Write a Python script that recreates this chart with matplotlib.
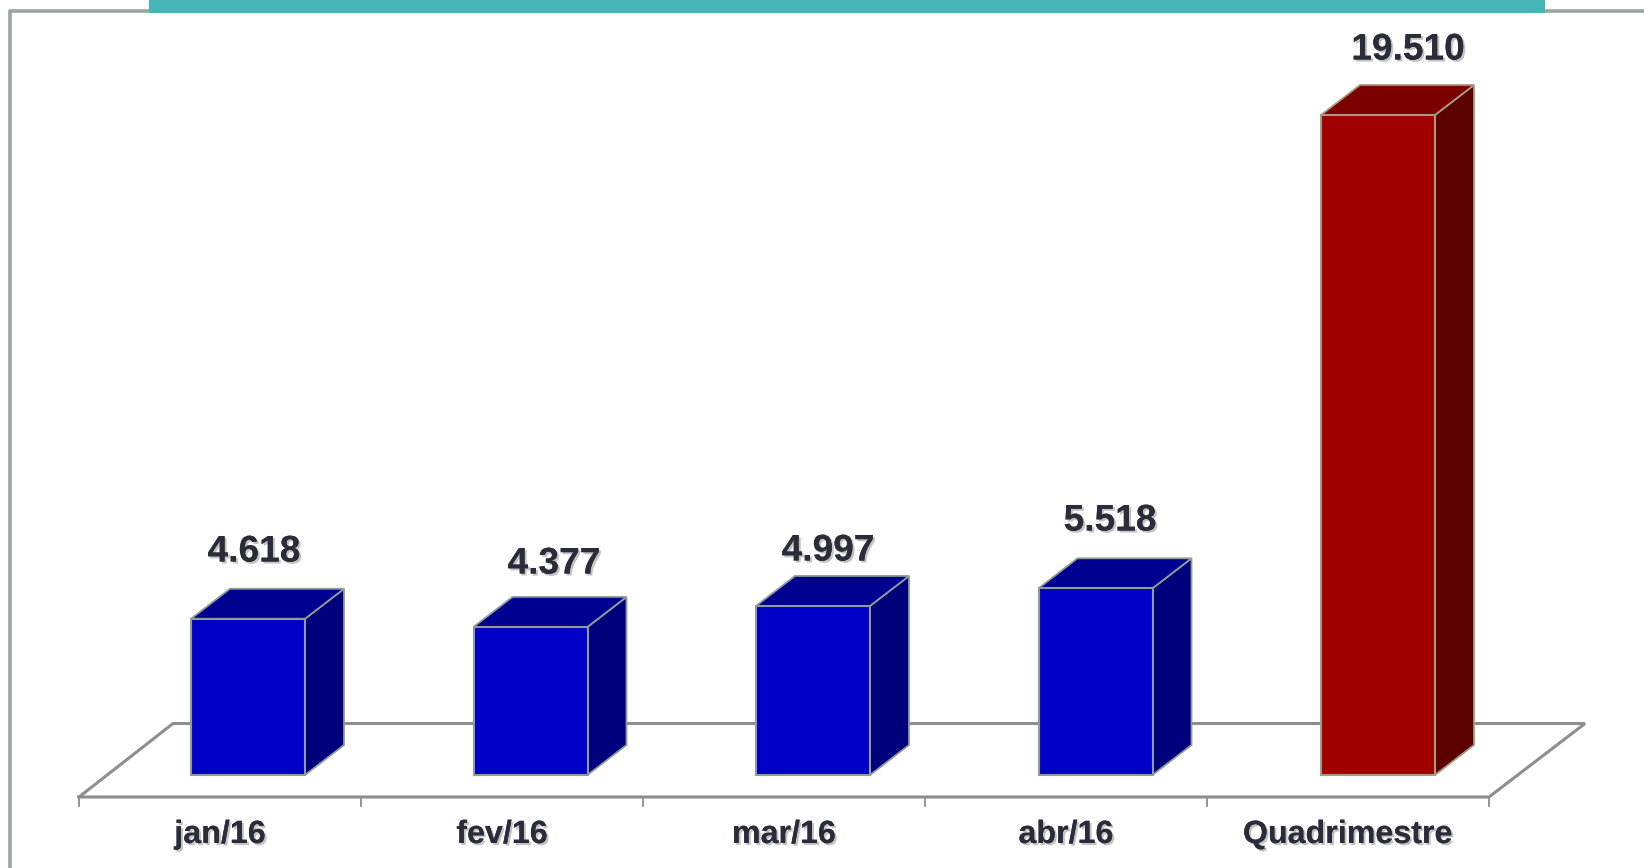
"""Oblique 3D style bar chart: monthly values and the four month total."""

import matplotlib

matplotlib.use("Agg")
import matplotlib.patheffects as pe
import matplotlib.pyplot as plt
from matplotlib.patches import Polygon, Rectangle

categories = ["jan/16", "fev/16", "mar/16", "abr/16", "Quadrimestre"]
values = [4618, 4377, 4997, 5518, 19510]
value_labels = ["4.618", "4.377", "4.997", "5.518", "19.510"]

W, H = 1644, 868
PX_PER_CAT = 282.5
PX_PER_VALUE = 0.03383
BASE_PX = 775
FIRST_CENTER_PX = 248

# bar geometry in data units
BAR_W = 114 / PX_PER_CAT
DEPTH_X = 39 / PX_PER_CAT
DEPTH_Y = 30 / PX_PER_VALUE

TEXT_COLOR = "#2b2c3a"
BLUE = ("#0000c8", "#000090", "#00007c", "#8f9c98")
RED = ("#a00000", "#7c0000", "#5c0000", "#a89a84")


def px_x(px):
    return (px - FIRST_CENTER_PX) / PX_PER_CAT


def px_y(px):
    return (BASE_PX - px) / PX_PER_VALUE


def draw_bar(ax, x, value, colors):
    front, top, side, edge = colors
    left, right = x - BAR_W / 2, x + BAR_W / 2
    ax.add_patch(Polygon([(right, 0), (right + DEPTH_X, DEPTH_Y), (right + DEPTH_X, value + DEPTH_Y), (right, value)],
                         facecolor=side, edgecolor=edge, lw=1.3, zorder=3))
    ax.add_patch(Polygon([(left, value), (right, value), (right + DEPTH_X, value + DEPTH_Y), (left + DEPTH_X, value + DEPTH_Y)],
                         facecolor=top, edgecolor=edge, lw=1.3, zorder=3))
    ax.add_patch(Rectangle((left, 0), BAR_W, value, facecolor=front, edgecolor=edge, lw=1.5, zorder=4))


def main():
    plt.rcParams["font.family"] = ["Liberation Sans", "DejaVu Sans"]
    fig = plt.figure(figsize=(W / 100, H / 100), dpi=100)
    ax = fig.add_axes([0, 0, 1, 1])
    ax.set_xlim(px_x(0), px_x(W))
    ax.set_ylim(px_y(H), px_y(0))
    ax.axis("off")

    # slide frame and teal title band, cut by the top edge
    ax.plot([px_x(10), px_x(10), px_x(W)], [px_y(H), px_y(10.5), px_y(10.5)], color="#98a69e", lw=2.6, zorder=1)
    ax.add_patch(Rectangle((px_x(149), px_y(13)), px_x(1545) - px_x(149), px_y(-2) - px_y(13),
                           facecolor="#45b5b7", edgecolor="none", zorder=2))

    # floor
    floor_x = [px_x(79), px_x(173), px_x(1585), px_x(1489), px_x(79)]
    floor_y = [px_y(797), px_y(723.5), px_y(723.5), px_y(797), px_y(797)]
    ax.plot(floor_x, floor_y, color="#8e8e8e", lw=2.2, solid_joinstyle="miter", zorder=2)

    # category ticks and labels
    shadow = [pe.withSimplePatchShadow(offset=(1.5, -1.5), shadow_rgbFace="#555555", alpha=0.35), pe.Normal()]
    tick_step = (1489 - 79) / len(categories)
    for i, name in enumerate(categories):
        tick_px = 79 + i * tick_step
        ax.plot([px_x(tick_px)] * 2, [px_y(797), px_y(806)], color="#8e8e8e", lw=1.3, zorder=2)
        ax.text(px_x(tick_px + tick_step / 2), px_y(835), name, ha="center", va="center",
                fontsize=23.2, fontweight="bold", color=TEXT_COLOR, path_effects=shadow)
    ax.plot([px_x(1489)] * 2, [px_y(797), px_y(806)], color="#8e8e8e", lw=1.3, zorder=2)

    label_px = [(254, 552), (554, 564), (828, 551), (1110, 521), (1408, 50)]
    for i, (value, label) in enumerate(zip(values, value_labels)):
        draw_bar(ax, i, value, RED if i == len(values) - 1 else BLUE)
        ax.text(px_x(label_px[i][0]), px_y(label_px[i][1]), label, ha="center", va="center",
                fontsize=26.7, fontweight="bold", color=TEXT_COLOR, path_effects=shadow, zorder=5)

    fig.savefig("out.png", dpi=100)
    plt.close(fig)


if __name__ == "__main__":
    main()
